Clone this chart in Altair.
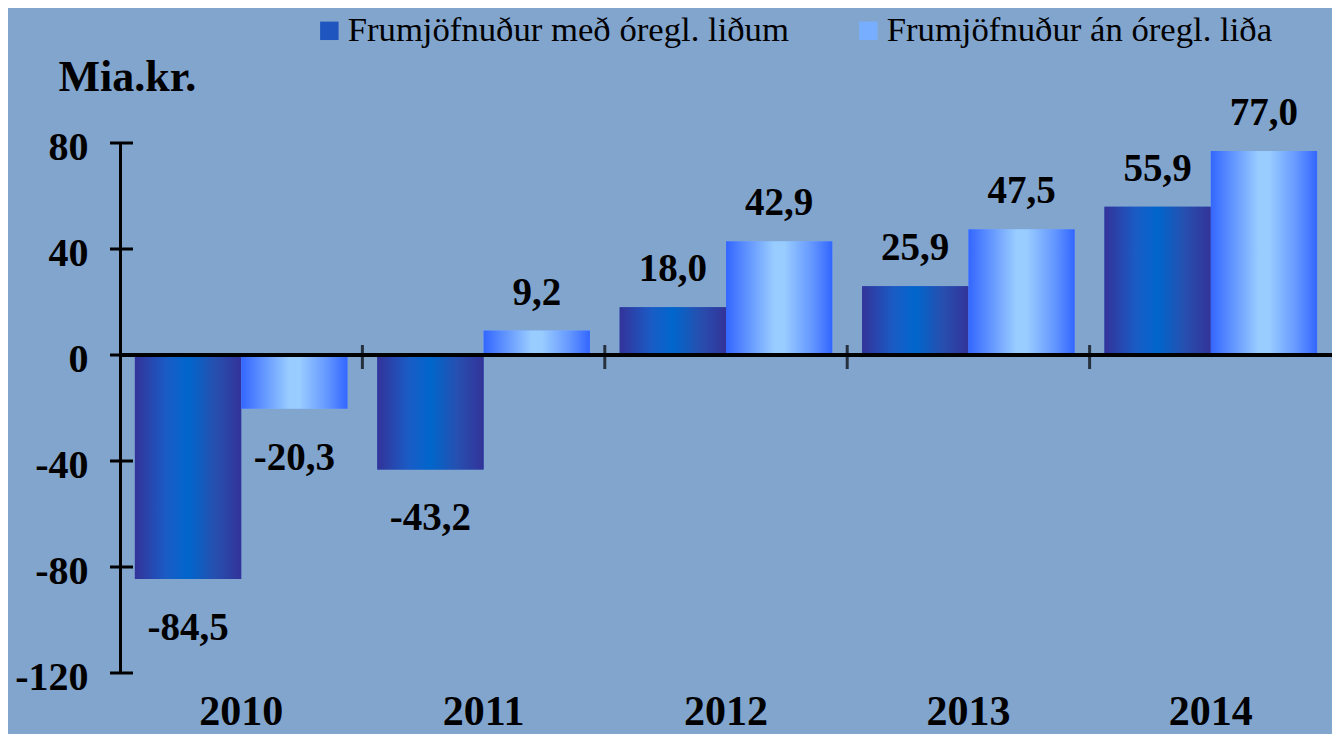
import altair as alt
import pandas as pd

years = ["2010", "2011", "2012", "2013", "2014"]
series_names = ["Frumjöfnuður með óregl. liðum", "Frumjöfnuður án óregl. liða"]
with_items = [-84.5, -43.2, 18.0, 25.9, 55.9]
without_items = [-20.3, 9.2, 42.9, 47.5, 77.0]
y_ticks = [80, 40, 0, -40, -80, -120]
y_title = "Mia.kr."

rows = []
for i, yr in enumerate(years):
    rows.append({"year": yr, "series": series_names[0], "value": with_items[i]})
    rows.append({"year": yr, "series": series_names[1], "value": without_items[i]})
df = pd.DataFrame(rows)

FONT = "Liberation Serif"
BG = "#82A5CE"
PLOT_W = 1212
PLOT_H = 530

grad_dark = alt.LinearGradient(
    gradient="linear", x1=0, y1=0, x2=1, y2=0,
    stops=[alt.GradientStop(color="#333399", offset=0),
           alt.GradientStop(color="#1A5CC6", offset=0.3),
           alt.GradientStop(color="#0066CC", offset=0.5),
           alt.GradientStop(color="#2650B0", offset=0.75),
           alt.GradientStop(color="#333399", offset=1)])
grad_light = alt.LinearGradient(
    gradient="linear", x1=0, y1=0, x2=1, y2=0,
    stops=[alt.GradientStop(color="#3366FF", offset=0),
           alt.GradientStop(color="#99CCFF", offset=0.45),
           alt.GradientStop(color="#99CCFF", offset=0.55),
           alt.GradientStop(color="#6699FF", offset=0.8),
           alt.GradientStop(color="#3366FF", offset=1)])

x_enc = alt.X("year:N", sort=years,
              scale=alt.Scale(paddingInner=0, paddingOuter=0),
              axis=alt.Axis(title=None, domain=False, ticks=False, tickSize=0,
                            labelAngle=0, labelFont=FONT, labelFontSize=42,
                            labelFontWeight="bold", labelColor="black",
                            labelBaseline="alphabetic", labelPadding=51))
xoff_enc = alt.XOffset("series:N", sort=series_names,
                       scale=alt.Scale(paddingInner=0, paddingOuter=0.14))
y_enc = alt.Y("value:Q",
              scale=alt.Scale(domain=[-120, 80], nice=False, zero=False),
              axis=alt.Axis(values=y_ticks, domain=True, domainColor="black",
                            domainWidth=3, ticks=False, tickSize=0, grid=False,
                            labelFont=FONT, labelFontSize=40, labelFontWeight="bold",
                            labelColor="black", labelPadding=32, labelOffset=4,
                            labelExpr="datum.value < 0 ? '-' + abs(datum.value) : '' + datum.value",
                            title=y_title, titleAngle=0, titleFont=FONT,
                            titleFontSize=44, titleFontWeight="bold", titleColor="black",
                            titleAlign="left", titleBaseline="alphabetic",
                            titleX=-62, titleY=-53))

base = alt.Chart(df).encode(x=x_enc, xOffset=xoff_enc, y=y_enc)

legend_bars = base.mark_bar().encode(
    color=alt.Color("series:N",
                    scale=alt.Scale(domain=series_names, range=["#1F55BF", "#78AEFF"]),
                    legend=alt.Legend(title=None, orient="none", direction="horizontal",
                                      legendX=192, legendY=-130,
                                      symbolType="square", symbolSize=340,
                                      symbolStrokeWidth=0, labelFont=FONT,
                                      labelFontSize=34.7, labelColor="black",
                                      labelLimit=800, labelOffset=1,
                                      columnPadding=62)))

dark_bars = base.transform_filter(alt.datum.series == series_names[0]).mark_bar(fill=grad_dark)
light_bars = base.transform_filter(alt.datum.series == series_names[1]).mark_bar(fill=grad_light)

label_calc = "(datum.value < 0 ? '-' : '') + replace(format(abs(datum.value), '.1f'), '.', ',')"
pos_labels = base.transform_filter("datum.value >= 0").transform_calculate(
    label=label_calc).mark_text(font=FONT, fontSize=39, fontWeight="bold",
                                 color="black", baseline="alphabetic", dy=-26
                                 ).encode(text="label:N")
neg_labels = base.transform_filter("datum.value < 0").transform_calculate(
    label=label_calc).mark_text(font=FONT, fontSize=39, fontWeight="bold",
                                 color="black", baseline="alphabetic", dy=61
                                 ).encode(text="label:N")

zero_line = alt.Chart(pd.DataFrame({"z": [0]})).mark_rule(
    color="black", strokeWidth=4).encode(
    y=alt.Y("z:Q"), x=alt.value(0), x2=alt.value(PLOT_W))

y_cross = alt.Chart(pd.DataFrame({"t": y_ticks})).mark_rule(
    color="black", strokeWidth=3).encode(
    y=alt.Y("t:Q"), x=alt.value(-10), x2=alt.value(13))

x_ticks = alt.Chart(pd.DataFrame({"year": years[1:], "z": [0] * (len(years) - 1)})).mark_tick(
    color="black", orient="vertical", size=24, thickness=3, yOffset=2).encode(
    x=alt.X("year:N", sort=years, bandPosition=0), y=alt.Y("z:Q"))

chart = alt.layer(legend_bars, dark_bars, light_bars, zero_line, y_cross, x_ticks,
                  pos_labels, neg_labels).properties(
    width=PLOT_W, height=PLOT_H,
    autosize=alt.AutoSizeParams(type="none"),
    padding={"left": 112, "top": 135, "right": 0, "bottom": 61},
).configure(background=BG).configure_view(stroke=None)

chart.save("out.html", embed_options={"renderer": "svg", "actions": False})
